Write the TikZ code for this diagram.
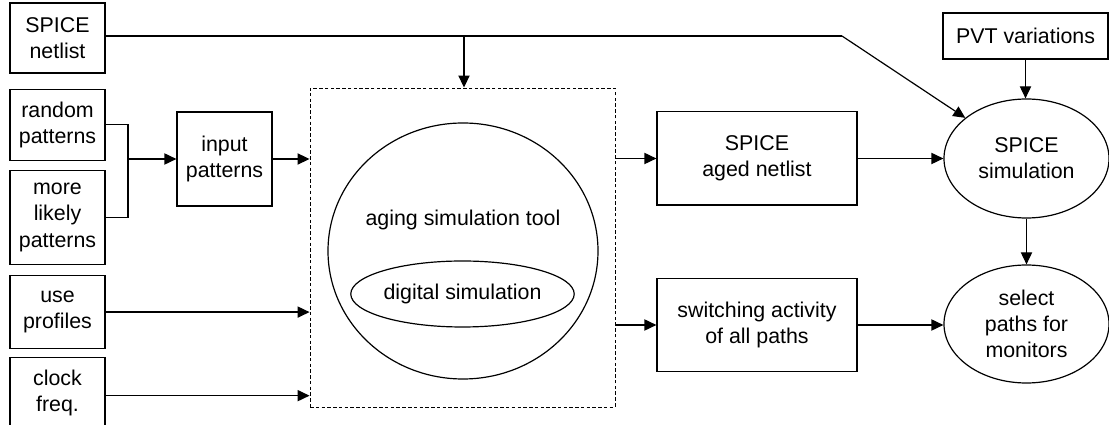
\documentclass[tikz,border=0pt]{standalone}
\usepackage{fontspec}
\setmainfont{Liberation Sans}
\usetikzlibrary{arrows.meta, positioning, shapes.geometric, calc}
\tikzset{
  block/.style={
    rectangle,
    draw,
    align=center,
    minimum width=2.375cm,
    inner sep=2pt,
    font=\fontsize{15.2}{18.6}\selectfont
  },
  widebox/.style={
    block,
    minimum width=5cm,
    minimum height=2.33cm
  },
  oval/.style={
    ellipse,
    draw,
    align=center,
    inner sep=0pt,
    font=\fontsize{15.2}{18.6}\selectfont
  },
  arrow/.style={-{Triangle[length=0.3cm, width=0.28cm]}},
  link/.style={-}
}

\begin{document}
\begin{tikzpicture}[line width=0.85pt, node distance=0.25cm and 0.6cm]
  \useasboundingbox (0,0) rectangle (27.725,10.625);

  % inputs on the left
  \node[block, minimum height=1.75cm] (netlist) at (1.4375,9.675) {SPICE\\netlist};
  \node[block, minimum height=1.775cm, below=0.375cm of netlist] (random) {random\\patterns};
  \node[block, minimum height=2.35cm, below=0.225cm of random] (likely) {more\\likely\\patterns};
  \node[block, minimum height=1.825cm, below=of likely] (profiles) {use\\profiles};
  \node[block, minimum height=1.775cm, below=0.2cm of profiles] (clock) {clock\\freq.};
  \node[block, minimum height=2.35cm] (input) at (5.6125,6.65) {input\\patterns};

  % aging tool
  \node[draw, dash pattern=on 2.5pt off 1.6pt, line width=0.65pt, minimum width=7.625cm, minimum height=7.975cm] (frame) at (11.5625,4.4375) {};
  \node[oval, minimum width=6.75cm, minimum height=6.4cm] (tool) at (11.575,4.35) {};
  \node[font=\fontsize{15.2}{18.6}\selectfont] (toollbl) at (11.575,5.125) {aging simulation tool};
  \node[oval, minimum width=4.775cm, minimum height=1.65cm] (digital) at (11.5625,3.275) {digital simulation};

  % outputs of the tool
  \node[widebox] (aged) at (18.925,6.6625) {SPICE\\aged netlist};
  \node[widebox] (switching) at (18.925,2.5) {switching activity\\of all paths};

  % SPICE stage
  \node[block, minimum width=4.125cm, minimum height=1.15cm] (pvt) at (25.6375,9.725) {PVT variations};
  \node[oval, minimum width=4.125cm, minimum height=2.975cm] (spicesim) at (25.6625,6.6625) {SPICE\\simulation};
  \node[oval, minimum width=4.125cm, minimum height=2.95cm] (select) at (25.6625,2.525) {select\\paths for\\monitors};

  \coordinate (join) at (3.2,6.65);
  \coordinate (split) at (11.6,9.725);
  \coordinate (bend) at (21.05,9.725);

  \draw[link] (random.east) -| (join) |- (likely.east);
  \draw[arrow] (join) -- (input);
  \draw[arrow] (input) -- (input -| frame.west);
  \draw[arrow] (profiles) -- (profiles -| frame.west);
  \draw[arrow] ([yshift=-0.06cm]clock.east) -- ([yshift=-0.06cm]clock.east -| frame.west);
  \draw[link] (netlist.east |- split) -- (bend);
  \draw[arrow] (bend) -- (spicesim);
  \draw[arrow] (split) -- (split |- frame.north);
  \draw[arrow] (aged -| frame.east) -- (aged);
  \draw[arrow] (switching -| frame.east) -- (switching);
  \draw[arrow] (aged) -- (spicesim);
  \draw[arrow] (switching) -- (switching -| select.west);
  \draw[arrow] (pvt) -- (pvt |- spicesim.north);
  \draw[arrow] (spicesim) -- (select);
\end{tikzpicture}
\end{document}
